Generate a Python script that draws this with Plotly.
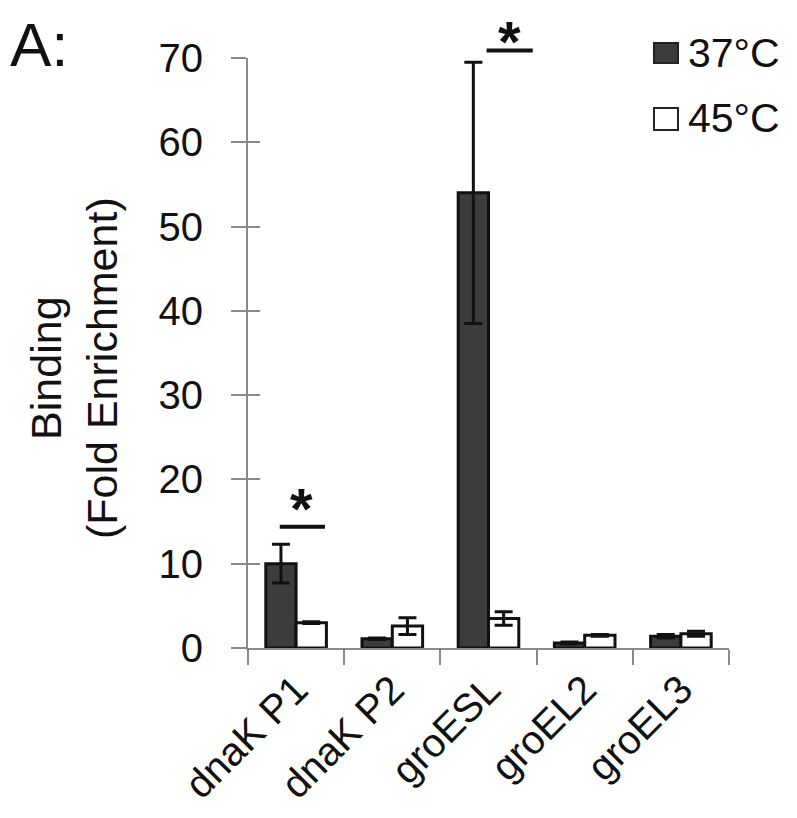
import plotly.graph_objects as go

# ---- data ----
categories = ["dnaK P1", "dnaK P2", "groESL", "groEL2", "groEL3"]
series_names = ["37°C", "45°C"]
vals_37 = [10.0, 1.1, 54.0, 0.6, 1.4]
err_37 = [2.3, 0.1, 15.5, 0.1, 0.2]
vals_45 = [3.0, 2.6, 3.5, 1.5, 1.7]
err_45 = [0.1, 1.0, 0.8, 0.1, 0.3]
y_ticks = [0, 10, 20, 30, 40, 50, 60, 70]
y_max = 70
# significance markers: category index, line height, star anchor height
sig_cats = [0, 2]
sig_line_y = [14.4, 70.9]
sig_star_y = [16.6, 72.0]

# ---- layout geometry (page pixels; page body has an 8px margin) ----
OFF = 8
W, H = 797 - OFF, 818 - OFF
PL, PR, PT, PB = 248, 729, 58, 648   # plot area in page pixels

def px_x(p):
    return (p - PL) / (PR - PL)

def px_y(p):
    return (PB - p) / (PB - PT)

FONT = "Liberation Sans, Arial, sans-serif"
DARK = "#3c3c3c"
AX = "#8a8a8a"
XR = [-0.5, len(categories) - 0.5]

fig = go.Figure()
fig.add_trace(go.Bar(
    x=categories, y=vals_37, name=series_names[0],
    marker=dict(color=DARK, line=dict(color="#111", width=3)),
    error_y=dict(type="data", array=err_37, color="#111", thickness=3, width=9),
))
fig.add_trace(go.Bar(
    x=categories, y=vals_45, name=series_names[1],
    marker=dict(color="white", line=dict(color="#111", width=3)),
    error_y=dict(type="data", array=err_45, color="#111", thickness=3, width=9),
))

# inside ticks overlay for crossing tick marks
fig.add_trace(go.Scatter(x=[categories[0]], y=[0], yaxis="y2", mode="markers",
                         marker=dict(opacity=0), showlegend=False, hoverinfo="skip"))

shapes = []
annotations = []
line_off = {0: (-0.17, 0.30), 2: (-0.02, 0.46)}
star_off = {0: 0.06, 2: 0.22}
for ci, ly, sy in zip(sig_cats, sig_line_y, sig_star_y):
    a, b = line_off[ci]
    shapes.append(dict(type="line", xref="x", yref="paper", x0=ci + a, x1=ci + b,
                       y0=ly / y_max, y1=ly / y_max, line=dict(color="#111", width=4)))
    annotations.append(dict(x=ci + star_off[ci], y=sy / y_max, xref="x", yref="paper",
                            xanchor="center", yanchor="middle",
                            text="<b>*</b>", showarrow=False,
                            font=dict(family=FONT, size=58, color="#111")))

# manual legend
leg = [(series_names[0], DARK, 43, 63, 53), (series_names[1], "white", 108, 130, 118)]
for name, col, y0, y1, yc in leg:
    shapes.append(dict(type="rect", xref="paper", yref="paper",
                       x0=px_x(654), x1=px_x(678), y0=px_y(y1), y1=px_y(y0),
                       fillcolor=col, line=dict(color="#222", width=2)))
    annotations.append(dict(x=px_x(686), y=px_y(yc), xref="paper", yref="paper",
                            xanchor="left", yanchor="middle", text=name, showarrow=False,
                            font=dict(family=FONT, size=41, color="#111")))

# panel letter (box top kept at the figure's top edge)
annotations.append(dict(x=px_x(8), y=px_y(OFF), xref="paper", yref="paper",
                        xanchor="left", yanchor="top", text="A:", showarrow=False,
                        font=dict(family=FONT, size=62, color="#111")))
# y title
annotations.append(dict(x=px_x(74), y=px_y(368), xref="paper", yref="paper",
                        xanchor="center", yanchor="middle", textangle=-90,
                        text="Binding<br>(Fold Enrichment)", showarrow=False,
                        font=dict(family=FONT, size=43, color="#111")))

fig.update_layout(
    width=W, height=H,
    margin=dict(l=PL - OFF, r=(797 - PR), t=PT - OFF, b=(818 - PB), pad=0),
    paper_bgcolor="white", plot_bgcolor="white",
    barmode="group", bargap=0.37, bargroupgap=0,
    showlegend=False,
    font=dict(family=FONT, color="#111"),
    xaxis=dict(type="category", categoryorder="array", categoryarray=categories,
               showline=True, linecolor=AX, linewidth=2,
               ticks="outside", tickson="boundaries", ticklen=15, tickwidth=2,
               tickcolor=AX, tickangle=-45, tickfont=dict(family=FONT, size=40, color="#111"),
               showgrid=False, zeroline=False, range=XR),
    yaxis=dict(range=[0, y_max], tickvals=y_ticks, showline=True, linecolor=AX,
               linewidth=2, ticks="outside", ticklen=15, tickwidth=2, tickcolor=AX,
               tickfont=dict(family=FONT, size=40, color="#111"), ticklabelstandoff=20,
               showgrid=False, zeroline=False),
    yaxis2=dict(range=[0, y_max], tickvals=y_ticks, overlaying="y", side="left",
                anchor="x", ticks="inside", ticklen=12, tickwidth=2, tickcolor=AX,
                showticklabels=False, showline=False, showgrid=False, zeroline=False),
    shapes=shapes, annotations=annotations,
)

fig.write_html("out.html")
